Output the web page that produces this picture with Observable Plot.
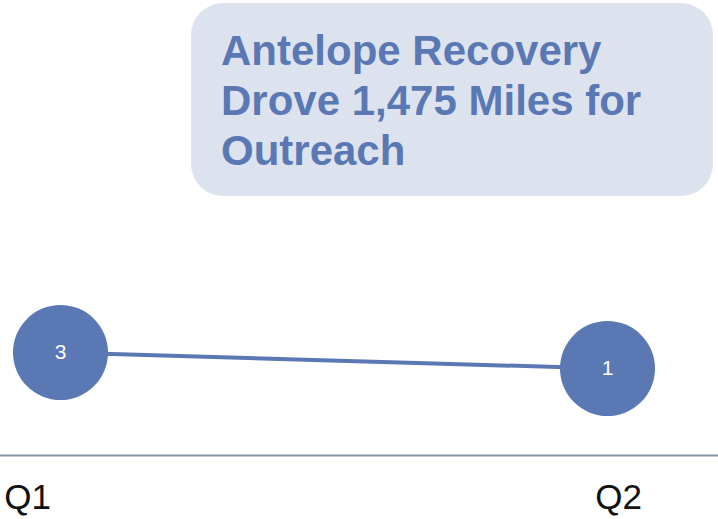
<!DOCTYPE html>
<html>
<head>
<meta charset="utf-8">
<script src="https://cdn.jsdelivr.net/npm/d3@7"></script>
<script src="https://cdn.jsdelivr.net/npm/@observablehq/plot@0.6"></script>
<style>
  html, body { margin: 0; padding: 0; background: #fff; }
  #wrap { position: relative; width: 718px; height: 519px; font-family: "Liberation Sans", Arial, sans-serif; }
  #titlebox {
    position: absolute; left: 191px; top: 3px; width: 522px; height: 193px;
    background: #dde3ee; border-radius: 32px; box-sizing: border-box;
    padding: 23px 0 0 30px;
    color: #5a78b4; font-weight: bold; font-size: 42px; line-height: 50px;
    font-family: "Liberation Sans", Arial, sans-serif; white-space: nowrap;
  }
  #chart { position: absolute; left: 0; top: 0; }
</style>
</head>
<body>
<div id="wrap">
  <div id="chart"></div>
  <div id="titlebox">Antelope Recovery<br>Drove 1,475 Miles for<br>Outreach</div>
</div>
<script>
const quarters = ["Q1", "Q2"];
const values = [3, 1];
const data = quarters.map((q, i) => ({quarter: q, value: values[i]}));

const blue = "#5a78b4";
const chart = Plot.plot({
  width: 718,
  height: 519,
  marginTop: 0,
  marginLeft: 0,
  marginRight: 0,
  marginBottom: 64,
  style: {fontFamily: "'Liberation Sans', Arial, sans-serif", background: "transparent"},
  x: {type: "point", domain: quarters, range: [60, 607], padding: 0, axis: null},
  y: {domain: [1, 3], range: [368, 352], axis: null},
  marks: [
    Plot.frame({anchor: "bottom", stroke: "#8593a6", strokeWidth: 2}),
    Plot.line(data, {x: "quarter", y: "value", stroke: blue, strokeWidth: 4}),
    Plot.dot(data, {x: "quarter", y: "value", r: 47.5, fill: blue, stroke: "none"}),
    Plot.text(data, {x: "quarter", y: "value", text: d => String(d.value), fill: "white", fontSize: 21}),
    Plot.text(data.filter(d => d.quarter === "Q1"), {x: "quarter", text: "quarter", frameAnchor: "bottom", dy: 53, dx: -33, fontSize: 35, fill: "#111"}),
    Plot.text(data.filter(d => d.quarter === "Q2"), {x: "quarter", text: "quarter", frameAnchor: "bottom", dy: 53, dx: 11, fontSize: 35, fill: "#111"})
  ]
});
document.getElementById("chart").appendChild(chart);
</script>
</body>
</html>
